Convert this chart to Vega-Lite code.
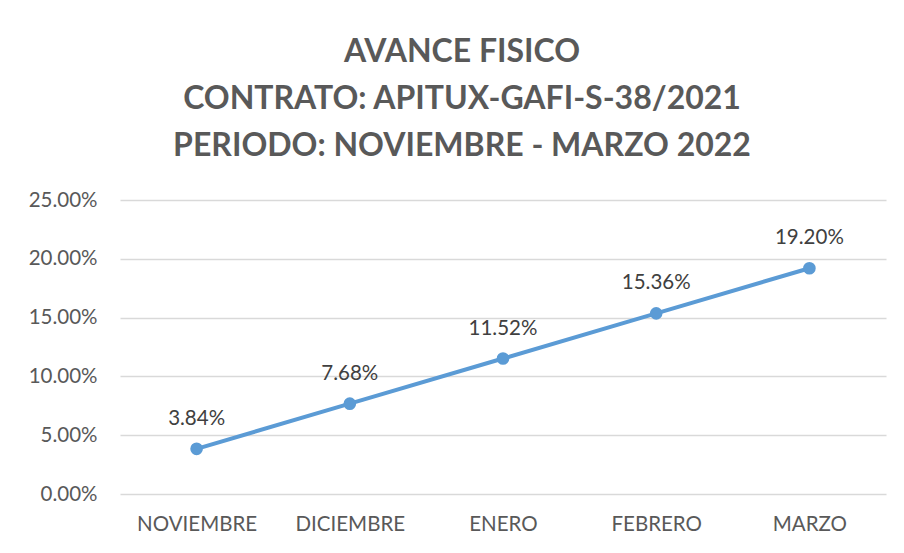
{
  "$schema": "https://vega.github.io/schema/vega-lite/v6.json",
  "autosize": "none",
  "width": 766,
  "height": 294,
  "padding": {"left": 120, "top": 200, "right": 18, "bottom": 59},
  "background": "white",
  "config": {"view": {"stroke": null}},
  "title": {
    "text": ["AVANCE FISICO", "CONTRATO: APITUX-GAFI-S-38/2021", "PERIODO: NOVIEMBRE - MARZO 2022"],
    "font": "Lato",
    "fontSize": 32,
    "fontWeight": "bold",
    "color": "#595959",
    "anchor": "middle",
    "dx": -41,
    "lineHeight": 47,
    "offset": 27
  },
  "data": {
    "values": [
      {"mes": "NOVIEMBRE", "avance": 0.0384},
      {"mes": "DICIEMBRE", "avance": 0.0768},
      {"mes": "ENERO", "avance": 0.1152},
      {"mes": "FEBRERO", "avance": 0.1536},
      {"mes": "MARZO", "avance": 0.192}
    ]
  },
  "encoding": {
    "x": {
      "field": "mes", "type": "nominal", "sort": null, "title": null,
      "scale": {"paddingInner": 0, "paddingOuter": 0.5},
      "axis": {"labelAngle": 0, "labelFont": "Lato", "labelFontSize": 20.5, "labelColor": "#595959", "domain": false, "ticks": false, "labelPadding": 20, "grid": false}
    },
    "y": {
      "field": "avance", "type": "quantitative", "title": null,
      "scale": {"domain": [0, 0.25]},
      "axis": {"values": [0, 0.05, 0.1, 0.15, 0.2, 0.25], "format": ".2%", "labelFont": "Lato", "labelFontSize": 20.5, "labelColor": "#595959", "domain": false, "ticks": false, "labelPadding": 23, "gridColor": "#d9d9d9", "gridWidth": 1.5}
    }
  },
  "layer": [
    {"mark": {"type": "line", "color": "#5b9bd5", "strokeWidth": 4}},
    {"mark": {"type": "point", "filled": true, "color": "#5b9bd5", "size": 160, "opacity": 1}},
    {"mark": {"type": "text", "dy": -30, "font": "Lato", "fontSize": 20.5, "color": "#404040"},
     "encoding": {"text": {"field": "avance", "type": "quantitative", "format": ".2%"}}}
  ]
}
